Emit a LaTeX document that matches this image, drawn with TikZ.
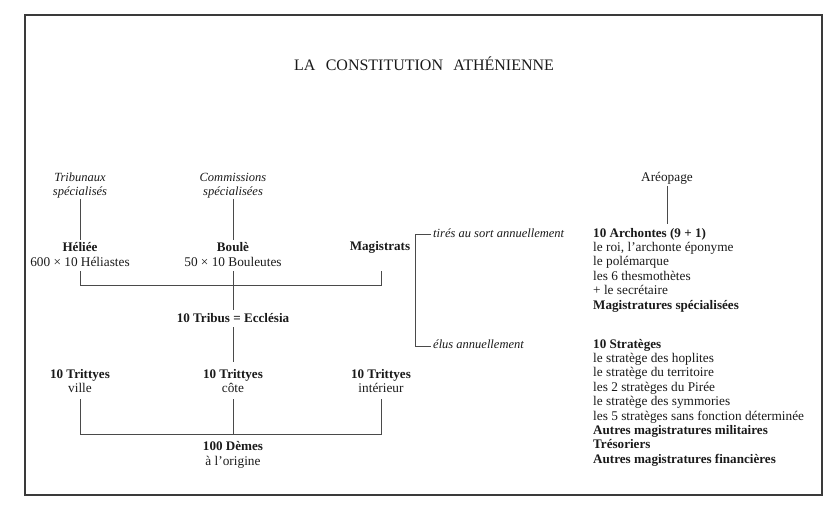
\documentclass[tikz,border=0pt]{standalone}
\usepackage{fontspec}
\setmainfont{Liberation Serif}
\definecolor{ink}{HTML}{1A1A1A}
\definecolor{lnc}{HTML}{4A4A4A}
\definecolor{frm}{HTML}{3A3A3A}
\begin{document}
\begin{tikzpicture}[x=1pt,y=-1pt,
  txt/.style={inner sep=0pt, anchor=base, text=ink, font=\fontsize{13.3}{14.4}\selectfont},
  bft/.style={txt, font=\fontsize{13.1}{14.4}\selectfont\bfseries},
  itt/.style={txt, font=\fontsize{12.5}{14.4}\selectfont\itshape},
  lft/.style={anchor=base west},
  conn/.style={draw=lnc, line width=0.6pt},
  frame/.style={draw=frm, line width=1.5pt}]
\useasboundingbox (0,0) rectangle (840,508);
\draw[frame] (25,15) rectangle (822,495);

% title
\node[txt, font=\fontsize{16}{18}\selectfont] (title) at (424,71) {LA\hspace{0.65em}CONSTITUTION\hspace{0.65em}ATHÉNIENNE};

% left part
\node[itt] (tribA) at (80,181) {Tribunaux};
\node[itt] (tribB) at (80,195) {spécialisés};
\node[bft] (heliee) at (80,251) {Héliée};
\node[txt] (heliastes) at (80,266) {600 × 10 Héliastes};

\node[itt] (comA) at (233,181) {Commissions};
\node[itt] (comB) at (233,195) {spécialisées};
\node[bft] (boule) at (233,251) {Boulè};
\node[txt] (bouleutes) at (233,266) {50 × 10 Bouleutes};

\node[bft] (magis) at (380,250) {Magistrats};

\node[bft] (tribus) at (233,322) {10 Tribus = Ecclésia};

\node[bft] (trA) at (80,378) {10 Trittyes};
\node[txt] (trAb) at (80,392) {ville};
\node[bft] (trB) at (233,378) {10 Trittyes};
\node[txt] (trBb) at (233,392) {côte};
\node[bft] (trC) at (381,378) {10 Trittyes};
\node[txt] (trCb) at (381,392) {intérieur};

\node[bft] (demes) at (233,450) {100 Dèmes};
\node[txt] (demesb) at (233,465) {à l’origine};

% right part
\node[txt] (areo) at (667,181) {Aréopage};
\node[itt, lft] (tires) at (433,237) {tirés au sort annuellement};
\node[itt, lft] (elus) at (433,348) {élus annuellement};

\node[bft, lft] (arch) at (593,237) {10 Archontes (9 + 1)};
\node[txt, lft] (a1) at (593,251.4) {le roi, l’archonte éponyme};
\node[txt, lft] (a2) at (593,265.8) {le polémarque};
\node[txt, lft] (a3) at (593,280.2) {les 6 thesmothètes};
\node[txt, lft] (a4) at (593,294.6) {+ le secrétaire};
\node[bft, lft] (a5) at (593,309) {Magistratures spécialisées};

\node[bft, lft] (strat) at (593,348) {10 Stratèges};
\node[txt, lft] (s1) at (593,362.4) {le stratège des hoplites};
\node[txt, lft] (s2) at (593,376.8) {le stratège du territoire};
\node[txt, lft] (s3) at (593,391.2) {les 2 stratèges du Pirée};
\node[txt, lft] (s4) at (593,405.6) {le stratège des symmories};
\node[txt, lft] (s5) at (593,420) {les 5 stratèges sans fonction déterminée};
\node[bft, lft] (s6) at (593,434.4) {Autres magistratures militaires};
\node[bft, lft] (s7) at (593,448.8) {Trésoriers};
\node[bft, lft] (s8) at (593,463.2) {Autres magistratures financières};

% connectors
\draw[conn] ([yshift=-1pt]tribB.south) -- ([yshift=2pt]heliee.north);
\draw[conn] ([yshift=-1pt]comB.south) -- ([yshift=2pt]boule.north);
\draw[conn] ([yshift=-2pt]areo.south) -- ([yshift=4pt]areo.south |- arch.north);

\coordinate (hb1) at (80,285);
\coordinate (hb2) at (381,285);
\draw[conn] ([yshift=-5pt]heliastes.south) -- (hb1) -- (hb2) -- ([yshift=-5pt]hb2 |- heliastes.south);
\draw[conn] ([yshift=-5pt]bouleutes.south) -- ([yshift=3pt]tribus.north);
\draw[conn] ([yshift=-5pt]tribus.south) -- ([yshift=7pt]trB.north);

\coordinate (tb1) at (80,434);
\coordinate (tb2) at (381,434);
\draw[conn] ([yshift=-7pt]trAb.south) -- (tb1) -- (tb2) -- ([yshift=-7pt]trCb.south);
\draw[conn] ([yshift=-7pt]trBb.south) -- (trBb.south |- tb1);

\coordinate (mb1) at (415,234);
\coordinate (mb2) at (415,346);
\draw[conn, shorten <=2pt, shorten >=2pt] (tires.west |- mb1) -- (mb1) -- (mb2) -- (elus.west |- mb2);
\end{tikzpicture}
\end{document}
